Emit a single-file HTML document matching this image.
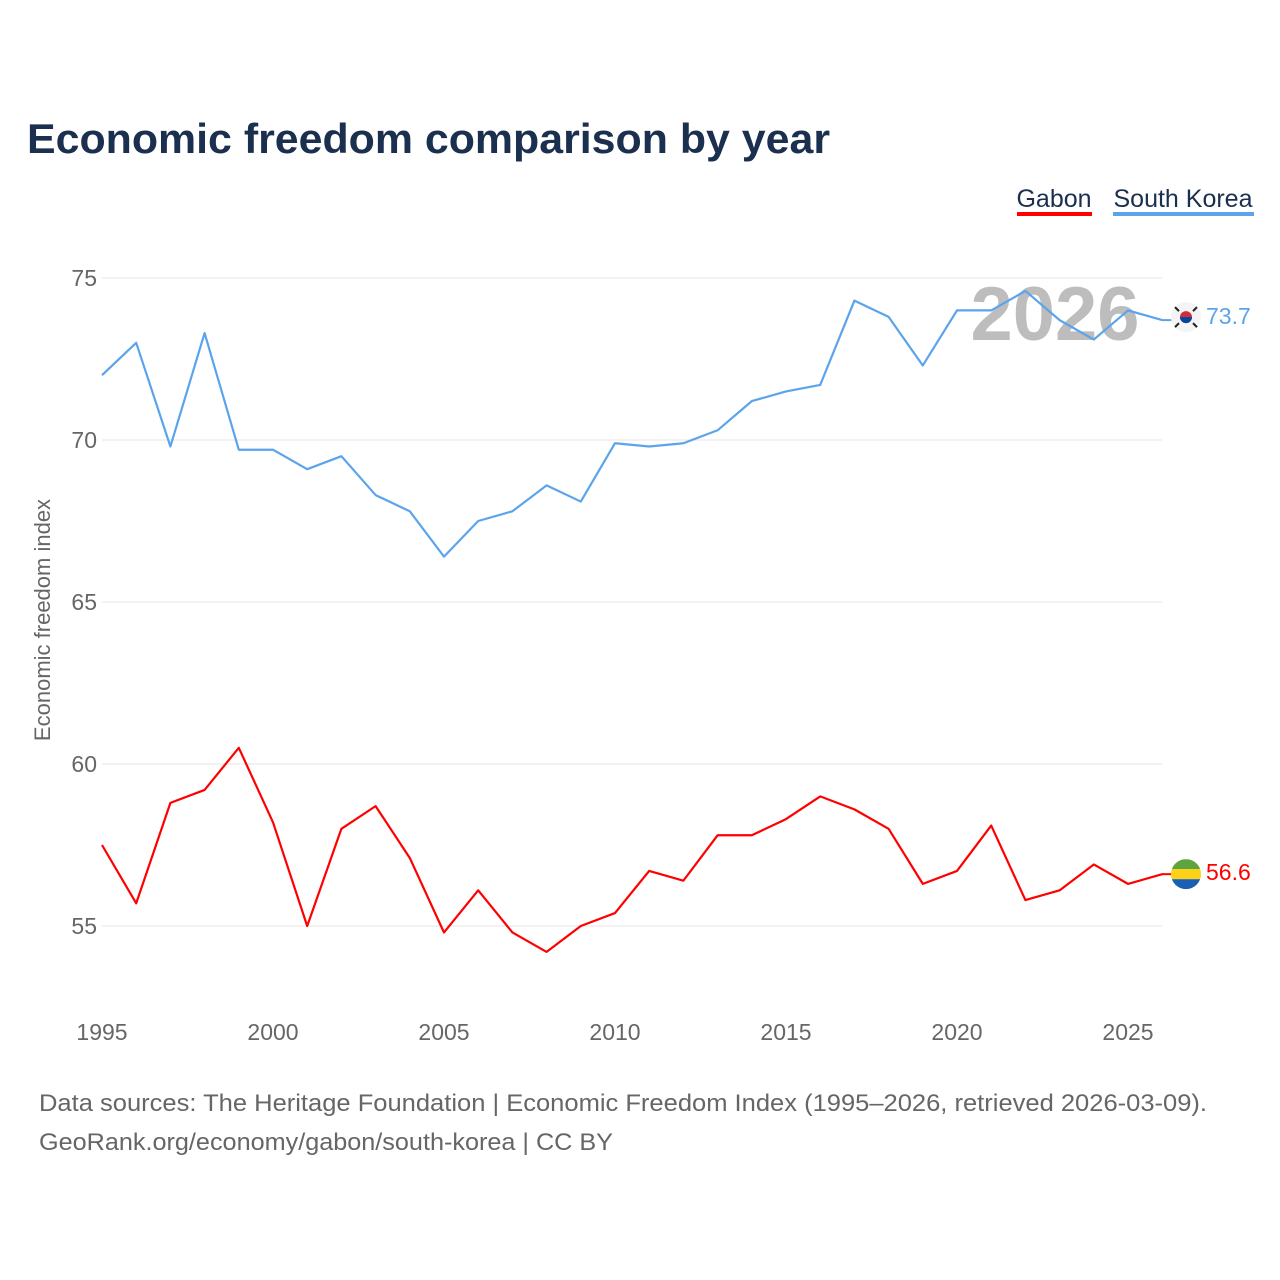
<!DOCTYPE html>
<html><head><meta charset="utf-8">
<style>
body{margin:0;background:#fff;font-family:"Liberation Sans",sans-serif;}
#wrap{position:relative;width:1280px;height:1280px;overflow:hidden;}
</style></head>
<body>
<div id="wrap">
<svg id="chart" width="1280" height="1280">
<text x="27" y="153" font-size="42" font-weight="bold" fill="#1b2f4e" textLength="803" lengthAdjust="spacingAndGlyphs">Economic freedom comparison by year</text>
<g>
<text x="1054" y="207" font-size="25" fill="#1b2f4e" text-anchor="middle">Gabon</text>
<rect x="1017" y="212" width="75" height="4" fill="#ff0000"/></g>
<g>
<text x="1183" y="207" font-size="25" fill="#1b2f4e" text-anchor="middle">South Korea</text>
<rect x="1113" y="212" width="141" height="4" fill="#5ba4ec"/></g>
<text x="1055" y="340" font-size="76" font-weight="bold" fill="#bdbdbd" text-anchor="middle">2026</text>
<g id="grid"></g><g id="xt"></g><g id="yt"></g><g id="lines"></g>
<text transform="translate(50,620) rotate(-90)" font-size="22" fill="#666" text-anchor="middle">Economic freedom index</text>
<text x="39" y="1111" font-size="24" fill="#666" textLength="1168" lengthAdjust="spacingAndGlyphs">Data sources: The Heritage Foundation | Economic Freedom Index (1995–2026, retrieved 2026-03-09).</text>
<text x="39" y="1150" font-size="24" fill="#666" textLength="574" lengthAdjust="spacingAndGlyphs">GeoRank.org/economy/gabon/south-korea | CC BY</text>
</svg></div>
<script>
const years=[1995,1996,1997,1998,1999,2000,2001,2002,2003,2004,2005,2006,2007,2008,2009,2010,2011,2012,2013,2014,2015,2016,2017,2018,2019,2020,2021,2022,2023,2024,2025,2026];
const korea=[72.0,73.0,69.8,73.3,69.7,69.7,69.1,69.5,68.3,67.8,66.4,67.5,67.8,68.6,68.1,69.9,69.8,69.9,70.3,71.2,71.5,71.7,74.3,73.8,72.3,74.0,74.0,74.6,73.7,73.1,74.0,73.7];
const gabon=[57.5,55.7,58.8,59.2,60.5,58.2,55.0,58.0,58.7,57.1,54.8,56.1,54.8,54.2,55.0,55.4,56.7,56.4,57.8,57.8,58.3,59.0,58.6,58.0,56.3,56.7,58.1,55.8,56.1,56.9,56.3,56.6];
const xTicks=[1995,2000,2005,2010,2015,2020,2025];
const yTicks=[55,60,65,70,75];
const NS="http://www.w3.org/2000/svg";
const x=v=>102+(v-1995)*34.2;
const y=v=>278+(75-v)*32.4;
function mk(t,a,p){const e=document.createElementNS(NS,t);for(const k in a)e.setAttribute(k,a[k]);document.getElementById(p).appendChild(e);return e;}
yTicks.forEach(v=>{
 const g=mk('line',{x1:102,x2:1162,y1:y(v),y2:y(v),stroke:'#e6e6e6','stroke-width':1},'grid');
 
 
 const t=mk('text',{x:97,y:y(v)+8,'font-size':23,fill:'#666','text-anchor':'end'},'yt');t.textContent=v;
 
 
});
xTicks.forEach(v=>{
 const t=mk('text',{x:x(v),y:1040,'font-size':23,fill:'#666','text-anchor':'middle'},'xt');t.textContent=v;
 
 
});
function series(d,c,n,dy){
 const p=mk('polyline',{points:d.map((v,i)=>x(years[i])+','+y(v)).join(' '),fill:'none',stroke:c,'stroke-width':2.2,'stroke-linejoin':'round'},'lines');
 
 
 const last=d[d.length-1],ly=y(last);
 mk('line',{x1:1162,x2:1172,y1:ly,y2:ly,stroke:c,'stroke-width':2},'lines');
 const t=mk('text',{x:1206,y:ly+8+dy,'font-size':23,fill:c},'lines');t.textContent=last.toFixed(1);
 
 
 return ly;
}
const ky=series(korea,'#5ba4ec','south-korea',-4);
const gy=series(gabon,'#ff0000','gabon',-2);
let f=mk('g',{},'lines');
const fy=ky-3;
f.innerHTML=`<circle cx="1186" cy="${fy}" r="15" fill="#f4f4f4"/><circle cx="1186" cy="${fy}" r="6" fill="#cd2e3a"/><path d="M1180 ${fy} a6 6 0 0 0 12 0z" fill="#0047a0"/><g stroke="#222" stroke-width="2"><line x1="1175" y1="${fy-10}" x2="1179" y2="${fy-6}"/><line x1="1193" y1="${fy+6}" x2="1197" y2="${fy+10}"/><line x1="1193" y1="${fy-6}" x2="1197" y2="${fy-10}"/><line x1="1175" y1="${fy+10}" x2="1179" y2="${fy+6}"/></g>`;
let g2=mk('g',{},'lines');
g2.innerHTML=`<clipPath id="gc"><circle cx="1186" cy="${gy}" r="15"/></clipPath><g clip-path="url(#gc)"><rect x="1170" y="${gy-15}" width="32" height="10" fill="#5fa33e"/><rect x="1170" y="${gy-5}" width="32" height="10" fill="#fcd116"/><rect x="1170" y="${gy+5}" width="32" height="11" fill="#1b5fb4"/></g>`;
</script>
</body></html>
